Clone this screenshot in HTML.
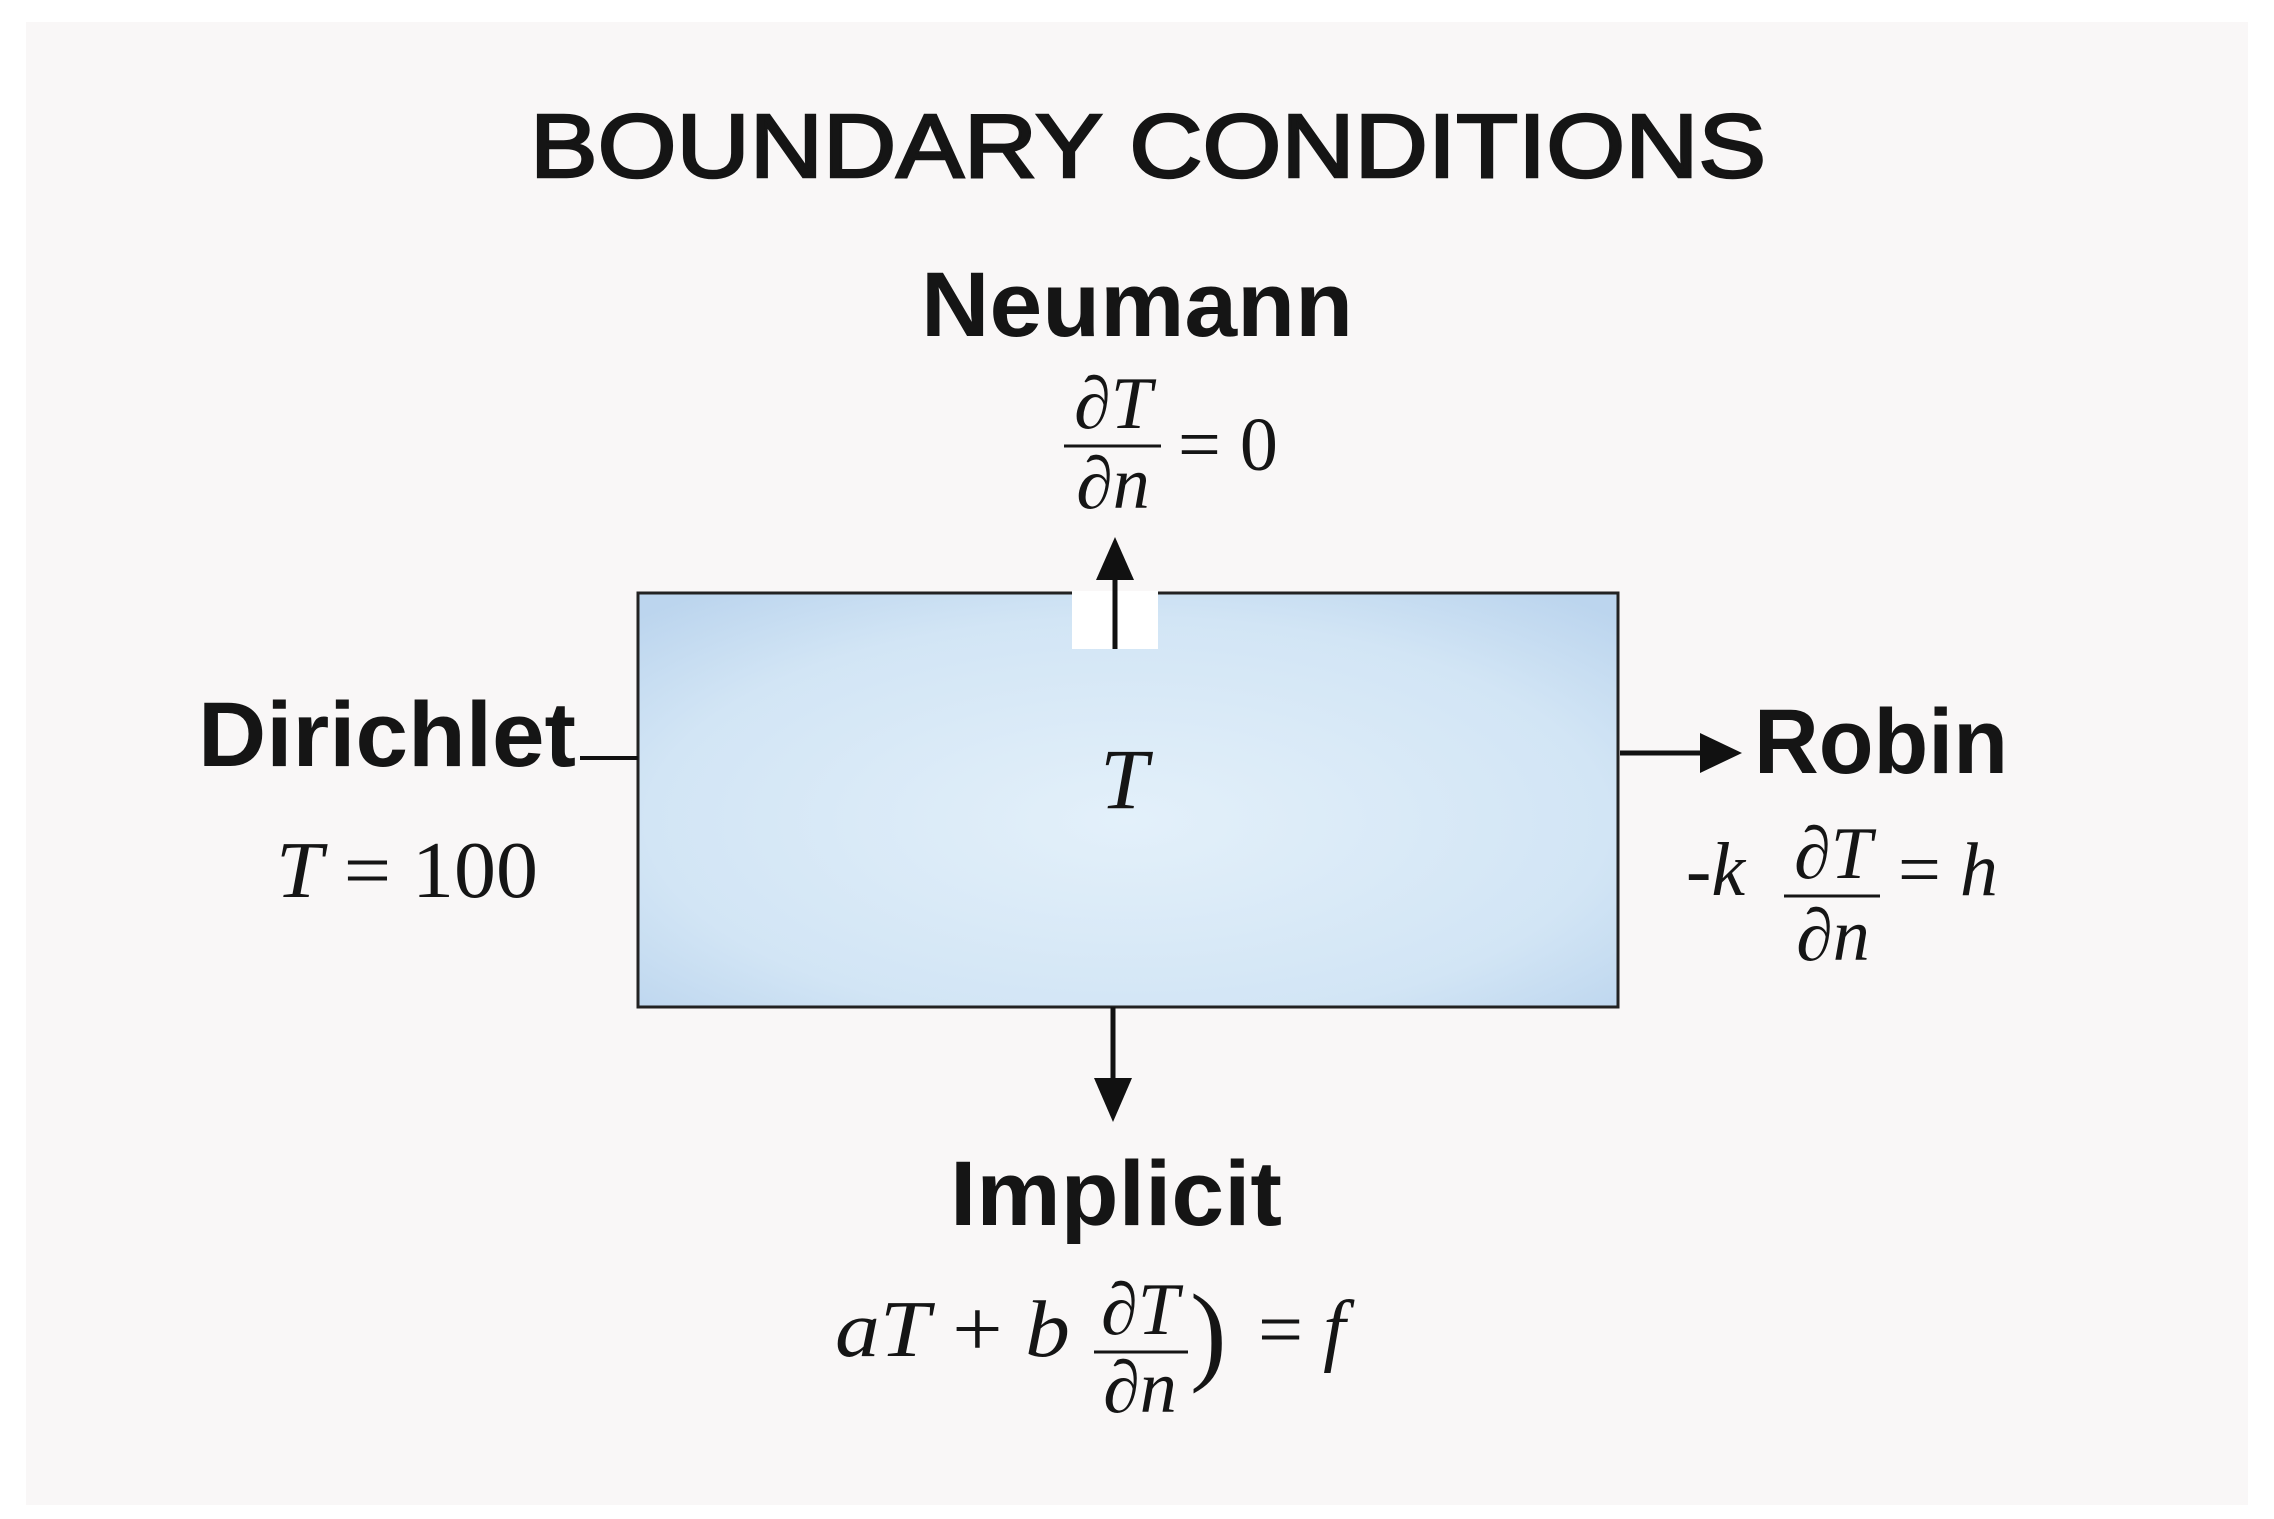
<!DOCTYPE html>
<html><head><meta charset="utf-8"><style>
html,body{margin:0;padding:0;background:#fff;}
svg{display:block;}
</style></head><body>
<svg width="2274" height="1519" viewBox="0 0 2274 1519" xmlns="http://www.w3.org/2000/svg">
<defs>
<radialGradient id="g" cx="0.5" cy="0.55" r="0.7">
<stop offset="0" stop-color="#e3f0fa"/>
<stop offset="0.7" stop-color="#d2e5f5"/>
<stop offset="1" stop-color="#bcd5ee"/>
</radialGradient>
</defs>
<rect x="0" y="0" width="2274" height="1519" fill="#ffffff"/>
<rect x="26" y="22" width="2222" height="1483" fill="#f9f7f7"/>
<g font-family="Liberation Sans, sans-serif" font-weight="bold" fill="#151515">
<text x="530" y="177" font-size="90" textLength="1236" lengthAdjust="spacingAndGlyphs" font-weight="normal" stroke="#151515" stroke-width="2.5">BOUNDARY CONDITIONS</text>
<text x="921" y="336" font-size="92" textLength="432" lengthAdjust="spacingAndGlyphs">Neumann</text>
<text x="198" y="766" font-size="92" textLength="378" lengthAdjust="spacingAndGlyphs">Dirichlet</text>
<text x="1754" y="773" font-size="92" textLength="254" lengthAdjust="spacingAndGlyphs">Robin</text>
<text x="950" y="1225" font-size="92" textLength="332" lengthAdjust="spacingAndGlyphs">Implicit</text>
</g>
<rect x="638" y="593" width="980" height="414" fill="url(#g)" stroke="#222" stroke-width="3"/>
<rect x="1072" y="591" width="86" height="58" fill="#ffffff"/>
<g stroke="#111" stroke-width="5" fill="#111">
<line x1="1115" y1="649" x2="1115" y2="570"/>
<polygon points="1096,580 1134,580 1115,537" stroke="none"/>
<line x1="580" y1="758" x2="638" y2="758" stroke-width="4"/>
<line x1="1620" y1="753" x2="1704" y2="753"/>
<polygon points="1700,733 1700,773 1742,753" stroke="none"/>
<line x1="1113" y1="1007" x2="1113" y2="1085"/>
<polygon points="1094,1078 1132,1078 1113,1122" stroke="none"/>
</g>
<g font-family="Liberation Serif, serif" fill="#151515">
<text x="1113" y="428" font-size="74" text-anchor="middle"><tspan>∂</tspan><tspan font-style="italic">T</tspan></text>
<line x1="1064" y1="446" x2="1161" y2="446" stroke="#151515" stroke-width="3"/>
<text x="1113" y="508" font-size="74" text-anchor="middle"><tspan>∂</tspan><tspan font-style="italic">n</tspan></text>
<text x="1178" y="470" font-size="76">= 0</text>
<text x="1124" y="808" font-size="86" font-style="italic" text-anchor="middle">T</text>
<text x="276" y="897" font-size="80" textLength="262" lengthAdjust="spacingAndGlyphs"><tspan font-style="italic">T</tspan> = 100</text>
<text x="1686" y="895" font-size="76">-<tspan font-style="italic">k</tspan></text>
<text x="1833" y="878" font-size="74" text-anchor="middle"><tspan>∂</tspan><tspan font-style="italic">T</tspan></text>
<line x1="1784" y1="896" x2="1880" y2="896" stroke="#151515" stroke-width="3"/>
<text x="1833" y="960" font-size="74" text-anchor="middle"><tspan>∂</tspan><tspan font-style="italic">n</tspan></text>
<text x="1898" y="895" font-size="76">= <tspan font-style="italic">h</tspan></text>
<text x="835" y="1356" font-size="80" textLength="235" lengthAdjust="spacingAndGlyphs"><tspan font-style="italic">aT</tspan> + <tspan font-style="italic">b</tspan></text>
<text x="1140" y="1334" font-size="74" text-anchor="middle"><tspan>∂</tspan><tspan font-style="italic">T</tspan></text>
<line x1="1094" y1="1352" x2="1188" y2="1352" stroke="#151515" stroke-width="3"/>
<text x="1140" y="1412" font-size="74" text-anchor="middle"><tspan>∂</tspan><tspan font-style="italic">n</tspan></text>
<text x="1190" y="1370" font-size="110">)</text>
<text x="1258" y="1356" font-size="80">= <tspan font-style="italic">f</tspan></text>
</g>
</svg>
</body></html>
